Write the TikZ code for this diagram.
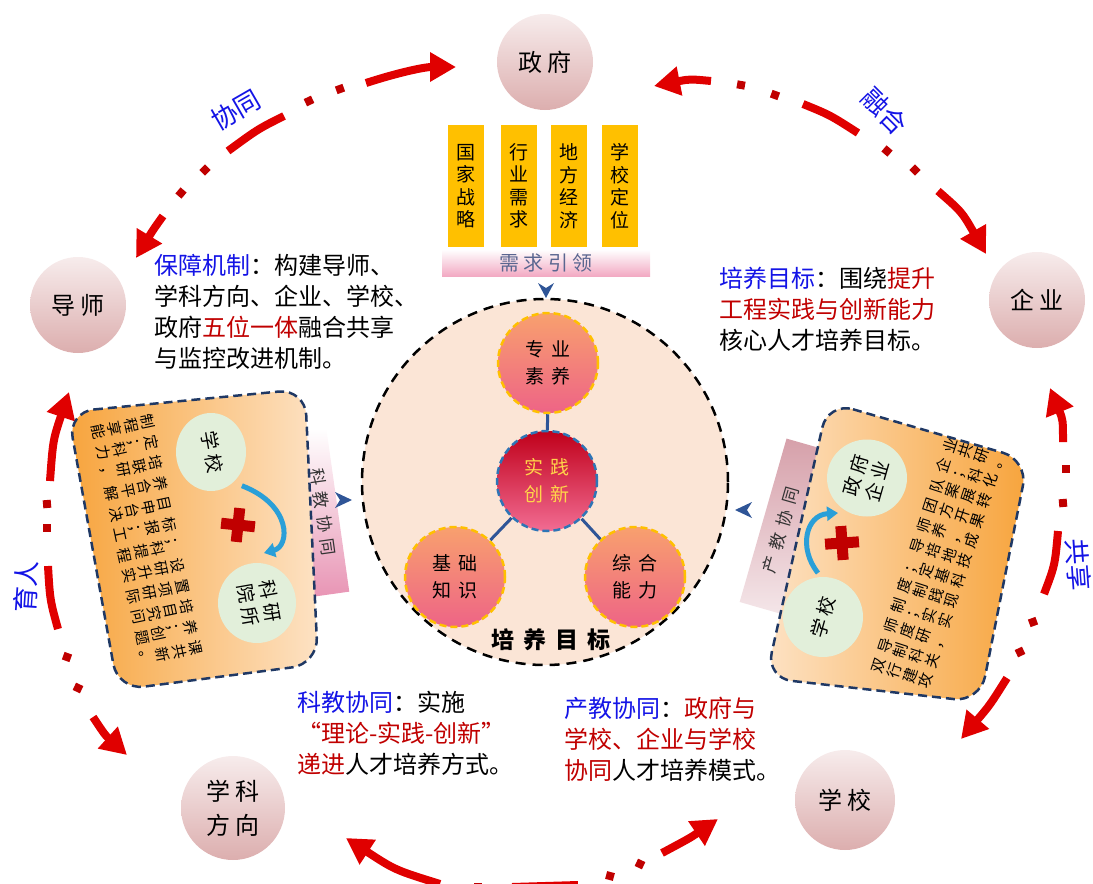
\documentclass[tikz,border=0pt]{standalone}
\usepackage{fontspec}
\setmainfont{Noto Sans CJK SC}
\newfontfamily\cardfont[LetterSpace=40]{Noto Sans CJK SC}
\newfontfamily\widefont[LetterSpace=22]{Noto Sans CJK SC}
\usetikzlibrary{arrows.meta,shapes.geometric}
\definecolor{arrred}{HTML}{E00000}
\definecolor{dotred}{HTML}{C00000}
\definecolor{tblue}{HTML}{1414E6}
\definecolor{tred}{HTML}{C00000}
\definecolor{navy}{HTML}{1F3864}
\definecolor{linkblue}{HTML}{2F5597}
\definecolor{cyanarr}{HTML}{2A9FD8}
\definecolor{barfill}{HTML}{FFC000}
\definecolor{peach}{HTML}{FBE5D6}
\definecolor{ringtop}{HTML}{F7ECEC}
\definecolor{ringbot}{HTML}{DCAEAE}
\definecolor{greenfill}{HTML}{E2EFDA}
\definecolor{cardorange}{HTML}{F7A43C}
\definecolor{cardlight}{HTML}{FDE2C4}
\definecolor{goldtxt}{HTML}{FFD54A}
\definecolor{banpink}{HTML}{E894B4}
\definecolor{banmauve}{HTML}{D6A0AA}
\definecolor{needtxt}{HTML}{5A6690}
\definecolor{needpink}{HTML}{F2A8C2}
\definecolor{parttop}{HTML}{F8A06E}
\definecolor{partbot}{HTML}{EE6486}
\definecolor{coretop}{HTML}{C0001A}
\definecolor{corebot}{HTML}{F26C93}
\definecolor{coreedge}{HTML}{2E75B6}
\tikzset{
  party/.style={circle, minimum size=96pt, inner sep=0pt, top color=ringtop, bottom color=ringbot, align=center, font=\widefont\fontsize{24}{30}\selectfont},
  arrpiece/.style={draw=arrred, line width=8pt, -{Triangle[length=26pt,width=28pt]}},
  midpiece/.style={draw=arrred, line width=8pt},
  dotsq/.style={rectangle, fill=dotred, minimum size=8pt, inner sep=0pt},
  arclabel/.style={text=tblue, inner sep=0pt, font=\fontsize{26}{30}\selectfont},
  bar/.style={rectangle, fill=barfill, minimum width=36pt, minimum height=122pt, inner sep=0pt, align=center, font=\fontsize{19}{22.5}\selectfont},
  goalpart/.style={circle, minimum size=100pt, inner sep=0pt, draw=barfill, line width=2.5pt, dash pattern=on 7pt off 4pt, top color=parttop, bottom color=partbot, align=center, font=\cardfont\fontsize{19}{27}\selectfont},
  corepart/.style={goalpart, draw=coreedge, top color=coretop, bottom color=corebot, text=goldtxt},
  link/.style={draw=linkblue, line width=3pt},
  cardborder/.style={draw=navy, line width=2.5pt, dash pattern=on 9pt off 5pt, rounded corners=26pt},
  cardtext/.style={inner sep=0pt, align=left, font=\cardfont\fontsize{15}{16.5}\selectfont},
  incircle/.style={ellipse, fill=greenfill, inner sep=0pt, align=center, font=\widefont\fontsize{19}{23}\selectfont},
  bantext/.style={inner sep=0pt, text=black!80, font=\cardfont\fontsize{17}{20}\selectfont},
  block/.style={inner sep=0pt, align=left, anchor=north west, font=\fontsize{24}{31}\selectfont},
  smallarr/.style={fill=linkblue}
}
\begin{document}
\begin{tikzpicture}[x=1pt,y=-1pt]
\useasboundingbox (0,0) rectangle (1093,884);

% ---------- outer parties ----------
\node[party] (gov) at (545,62) {政府};
\node[party] (ent) at (1037,300) {企业};
\node[party] (tut) at (78,305) {导师};
\node[party, minimum size=104pt, font=\widefont\fontsize{24}{34}\selectfont] (dis) at (233,808) {学科\\方向};
\node[party, minimum size=100pt] (sch) at (845,800) {学校};

% ---------- red arcs ----------
% top-left (tutor - government)
\draw[arrpiece] (366,83) .. controls (400,72) and (425,67) .. (456,67);
\node[dotsq, rotate=20] (d1) at (340,89) {};
\node[dotsq, rotate=25] (d2) at (309,101) {};
\draw[midpiece] (284,116) .. controls (258,129) .. (228,151);
\node[arclabel, rotate=30] (lb1) at (236,110) {协同};
\node[dotsq, rotate=45] (d3) at (205,170) {};
\node[dotsq, rotate=50] (d4) at (181,193) {};
\draw[arrpiece] (163,216) .. controls (153,230) .. (136,258);

% top-right (government - enterprise)
\draw[arrpiece] (711,81) .. controls (690,79) .. (654,86);
\node[dotsq, rotate=-10] (d5) at (741,85) {};
\node[dotsq, rotate=-20] (d6) at (775,95) {};
\draw[midpiece] (803,104) .. controls (830,115) .. (858,133);
\node[arclabel, rotate=-45] (lb2) at (885,111) {融合};
\node[dotsq, rotate=-40] (d7) at (887,151) {};
\node[dotsq, rotate=-45] (d8) at (915,170) {};
\draw[arrpiece] (938,191) .. controls (962,212) .. (986,254);

% left (tutor - discipline)
\draw[arrpiece] (50,481) .. controls (53,440) .. (69,392);
\node[dotsq, rotate=5] (d9) at (47,504) {};
\node[dotsq] (d10) at (47,528) {};
\draw[midpiece] (48,566) .. controls (50,600) .. (58,629);
\node[arclabel, rotate=86] (lb3) at (26,587) {育人};
\node[dotsq, rotate=-20] (d11) at (67,657) {};
\node[dotsq, rotate=-25] (d12) at (78,688) {};
\draw[arrpiece] (93,717) .. controls (105,735) .. (127,755);

% right (enterprise - school)
\draw[arrpiece] (1063,442) .. controls (1063,420) .. (1050,388);
\node[dotsq] (d13) at (1066,469) {};
\node[dotsq, rotate=5] (d14) at (1063,503) {};
\draw[midpiece] (1058,531) .. controls (1055,565) .. (1044,594);
\node[arclabel, rotate=-86] (lb4) at (1078,565) {共享};
\node[dotsq, rotate=20] (d15) at (1033,622) {};
\node[dotsq, rotate=25] (d16) at (1020,652) {};
\draw[arrpiece] (1007,678) .. controls (990,705) .. (961,739);

% bottom (discipline - school)
\draw[arrpiece] (440,884) .. controls (395,870) .. (346,838);
\node[dotsq] (d17) at (478,887) {};
\draw[midpiece] (512,887) -- (578,885);
\node[dotsq, rotate=-15] (d18) at (610,876) {};
\node[dotsq, rotate=-25] (d19) at (640,864) {};
\draw[arrpiece] (662,853) .. controls (690,838) .. (718,819);

% ---------- top demand bars ----------
\node[bar] (b1) at (466,186) {国\\家\\战\\略};
\node[bar] (b2) at (519,186) {行\\业\\需\\求};
\node[bar] (b3) at (569,186) {地\\方\\经\\济};
\node[bar] (b4) at (620,186) {学\\校\\定\\位};
\node[rectangle, minimum width=208pt, minimum height=27pt, inner sep=0pt, top color=white, bottom color=needpink, text=needtxt, font=\widefont\fontsize{20}{24}\selectfont] (need) at (546,263) {需求引领};
\fill[smallarr] (538,283) -- (546,298) -- (554,283) -- (546,288) -- cycle;

% ---------- central goal circle ----------
\node[circle, minimum size=366pt, inner sep=0pt, fill=peach, draw=black, line width=2.5pt, dash pattern=on 10pt off 7pt] (goal) at (545,482) {};
\node[goalpart] (zy) at (548,363) {专业\\素养};
\node[corepart] (sj) at (547,481) {实践\\创新};
\node[goalpart] (jc) at (455,577) {基础\\知识};
\node[goalpart] (zh) at (635,577) {综合\\能力};
\draw[link] (zy) -- (sj);
\draw[link] (sj) -- (jc);
\draw[link] (sj) -- (zh);
\node[inner sep=0pt, font=\cardfont\bfseries\fontsize{23}{26}\selectfont] (goallbl) at (551,640) {培养目标};

% ---------- left card ----------
\node[rectangle, rotate=-82, minimum width=165pt, minimum height=44pt, inner sep=0pt, top color=white, bottom color=banpink] (banL) at (316,513) {};
\node[bantext, rotate=-82] (banLt) at (323,512) {科教协同};
\draw[cardborder, left color=cardorange, right color=cardlight] (68,412) -- (305,389) -- (318,664) -- (118,690) -- cycle;
\node[incircle, minimum width=70pt, minimum height=78pt] (cL1) at (211,452) {};
\node[rotate=-80, inner sep=0pt, font=\widefont\fontsize{19}{23}\selectfont] (cL1t) at (212,452) {学校};
\node[incircle, minimum width=78pt, minimum height=80pt] (cL2) at (257,603) {};
\node[rotate=-80, inner sep=0pt, align=center, font=\widefont\fontsize{19}{22}\selectfont] (cL2t) at (259,603) {科研\\院所};
\begin{scope}[shift={(238,525)}, rotate=-6]
  \fill[dotred] (-17,-5.5) rectangle (17,5.5);
  \fill[dotred] (-5.5,-17) rectangle (5.5,17);
\end{scope}
\draw[cyanarr, line width=5pt, -{Triangle[length=11pt,width=14pt]}] (cL1.south east) ++(6,6) coordinate (aL0) .. controls (292,505) and (290,546) .. (264,553);
\node[cardtext, rotate=-78] (txtL) at (147,540) {制定培养目标；设置培养课\\程；联合申报科研项目；共\\享科研平台；提升研究创新\\能力，解决工程实际问题。};
\fill[smallarr] (335,492) -- (352,500) -- (335,508) -- (340,500) -- cycle;

% ---------- right card ----------
\node[rectangle, rotate=74, minimum width=170pt, minimum height=56pt, inner sep=0pt, top color=banmauve, bottom color=banmauve!25!white] (banR) at (790,528) {};
\node[bantext, rotate=74] (banRt) at (781,530) {产教协同};
\draw[cardborder, left color=cardlight, right color=cardorange] (828,402) -- (1028,460) -- (980,702) -- (766,678) -- cycle;
\node[incircle, minimum width=80pt, minimum height=77pt] (cR1) at (867,478) {};
\node[rotate=74, inner sep=0pt, align=center, font=\widefont\fontsize{19}{22}\selectfont] (cR1t) at (866,478) {政府\\企业};
\node[incircle, minimum width=80pt, minimum height=80pt] (cR2) at (823,617) {};
\node[rotate=74, inner sep=0pt, font=\widefont\fontsize{19}{23}\selectfont] (cR2t) at (823,617) {学校};
\begin{scope}[shift={(842,543)}, rotate=4]
  \fill[dotred] (-17,-5.5) rectangle (17,5.5);
  \fill[dotred] (-5.5,-17) rectangle (5.5,17);
\end{scope}
\draw[cyanarr, line width=5pt, -{Triangle[length=11pt,width=14pt]}] (818,573) .. controls (798,548) and (806,515) .. (838,513);
\node[cardtext, rotate=72] (txtR) at (938,563) {双导师制度；导师团队企业\\行制度；制定培养方案；共\\建科研实践基地，开展科研\\攻关，实现科技成果转化。};
\fill[smallarr] (752,502) -- (735,510) -- (752,518) -- (747,510) -- cycle;

% ---------- text blocks ----------
\node[block] (tb1) at (154,254) {\textcolor{tblue}{保障机制}：构建导师、\\学科方向、企业、学校、\\政府\textcolor{tred}{五位一体}融合共享\\与监控改进机制。};
\node[block] (tb2) at (719,267) {\textcolor{tblue}{培养目标}：围绕\textcolor{tred}{提升}\\\textcolor{tred}{工程实践与创新能力}\\核心人才培养目标。};
\node[block] (tb3) at (297,691) {\textcolor{tblue}{科教协同}：实施\\\textcolor{tred}{“理论-实践-创新”}\\\textcolor{tred}{递进}人才培养方式。};
\node[block] (tb4) at (564,697) {\textcolor{tblue}{产教协同}：\textcolor{tred}{政府与}\\\textcolor{tred}{学校、企业与学校}\\\textcolor{tred}{协同}人才培养模式。};
\end{tikzpicture}
\end{document}
